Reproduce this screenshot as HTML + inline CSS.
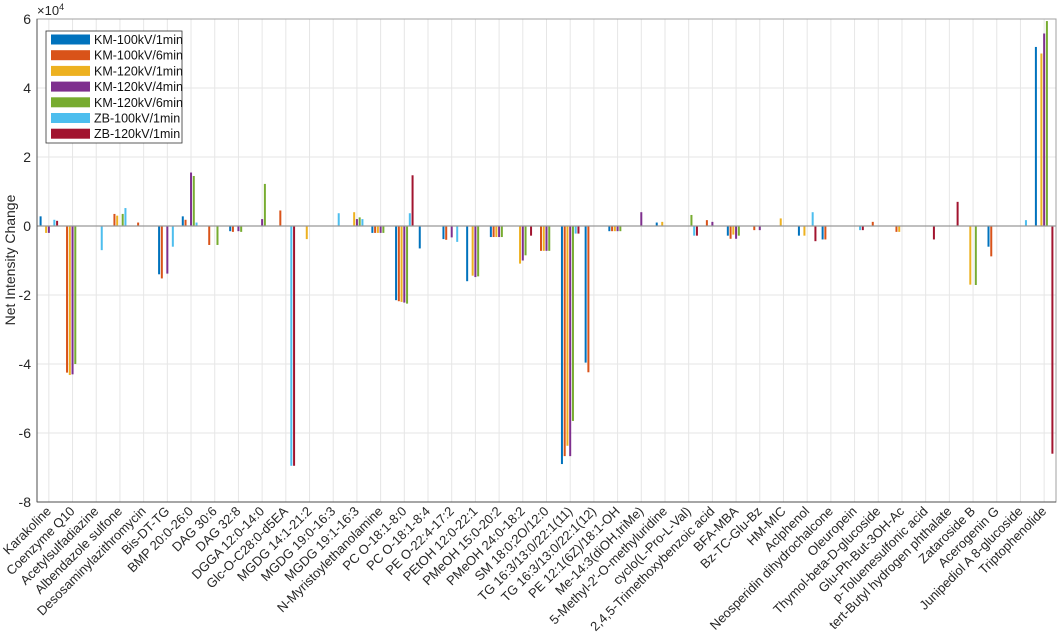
<!DOCTYPE html>
<html><head><meta charset="utf-8"><style>
html,body{margin:0;padding:0;background:#fff;}
svg{display:block;font-family:"Liberation Sans",sans-serif;}
</style></head><body>
<svg id="chart" width="1059" height="641" viewBox="0 0 1059 641" xmlns="http://www.w3.org/2000/svg">
<g id="grid"></g>
<g id="bars"></g>
<g id="axes"></g>
<g id="legend"></g>
</svg>
<script>
const categories = ["Karakoline","Coenzyme Q10","Acetylsulfadiazine","Albendazole sulfone","Desosaminylazithromycin","Bis-DT-TG","BMP 20:0-26:0","DAG 30:6","DAG 32:8","DGGA 12:0-14:0","Glc-O-C28:0-d5EA","MGDG 14:1-21:2","MGDG 19:0-16:3","MGDG 19:1-16:3","N-Myristoylethanolamine","PC O-18:1-8:0","PC O-18:1-8:4","PE O-22:4-17:2","PEtOH 12:0-22:1","PMeOH 15:0-20:2","PMeOH 24:0-18:2","SM 18:0;2O/12:0","TG 16:3/13:0/22:1(11)","TG 16:3/13:0/22:1(12)","PE 12:1(6Z)/18:1-OH","Me-14:3(diOH,triMe)","5-Methyl-2'-O-methyluridine","cyclo(L-Pro-L-Val)","2,4,5-Trimethoxybenzoic acid","BFA-MBA","Bz-TC-Glu-Bz","HM-MIC","Aclphenol","Neosperidin dihydrochalcone","Oleuropein","Thymol-beta-D-glucoside","Glu-Ph-But-3OH-Ac","p-Toluenesulfonic acid","tert-Butyl hydrogen phthalate","Zataroside B","Acerogenin G","Junipediol A 8-glucoside","Triptophenolide"];
const seriesNames = ["KM-100kV/1min","KM-100kV/6min","KM-120kV/1min","KM-120kV/4min","KM-120kV/6min","ZB-100kV/1min","ZB-120kV/1min"];
const km100_1 = [0.28,0,0,0,0,-1.4,0.28,0,-0.15,0, 0,0,0,0,-0.2,-2.15,-0.65,-0.38,-1.6,-0.32, 0,0,-6.9,-3.96,-0.15,0,0.1,0,0,-0.28, 0,0,-0.28,-0.39,0,0,0,0,0,0, -0.6,0,5.19];
const km100_6 = [0,-4.25,0,0.35,0.1,-1.52,0.18,-0.55,-0.17,0, 0.45,0,0,0,-0.2,-2.18,0,-0.4,0,-0.32, 0,-0.72,-6.67,-4.24,-0.15,0,0,0,0.17,-0.37, -0.12,0,0,-0.39,0,0.12,-0.17,0,0,0, -0.88,0,0];
const km120_1 = [-0.2,-4.32,0,0.3,0,0,0,0,0,0, 0,-0.38,0,0.4,-0.2,-2.2,0,0,-1.44,-0.32, -1.09,-0.72,-6.37,0,-0.15,0,0.12,0,0,-0.25, 0,0.22,-0.28,0,0,0,-0.17,0,0,-1.7, 0,0,5.0];
const km120_4 = [-0.2,-4.3,0,0,0,-1.38,1.55,0,-0.15,0.2, 0,0,0,0.2,-0.2,-2.22,0,-0.33,-1.48,-0.32, -1.0,-0.72,-6.67,0,-0.15,0.4,0,0,0.12,-0.37, -0.12,0,0,0,0,0,0,0,0,0, 0,0,5.58];
const km120_6 = [0,-4.0,0,0.35,0,0,1.45,-0.55,-0.17,1.22, 0,0,0,0.25,-0.2,-2.25,0,0,-1.46,-0.32, -0.85,-0.72,-5.65,0,-0.15,0,0,0.32,0,-0.28, 0,0,0,0,0,0,0,0,0,-1.71, 0,0,5.94];
const zb100_1 = [0.18,0,-0.7,0.52,0,-0.6,0.1,0,0,0, -6.95,0,0.37,0.2,0,0.37,0,-0.46,0,0, 0,0,-0.22,0,0,0,0,-0.28,0,0, 0,0,0.4,0,-0.12,0,0,0,0,0, 0,0.17,0];
const zb120_1 = [0.15,0,0,0,0,0,0,0,0,0, -6.95,0,0,0,0,1.47,0,0,0,0, -0.28,0,-0.22,0,0,0,0,-0.28,0,0, 0,0,-0.44,0,-0.12,0,0,-0.39,0.7,0, 0,0,-6.6];
const yTicks = [-8,-6,-4,-2,0,2,4,6];
const colors = ["#0072BD","#D95319","#EDB120","#7E2F8E","#77AC30","#4DBEEE","#A2142F"];
const allSeries = [km100_1,km100_6,km120_1,km120_4,km120_6,zb100_1,zb120_1];

const NS="http://www.w3.org/2000/svg";
const L=37, R=1056, T=19, B=502;
const yMin=-8, yMax=6;
function yScale(v){return B-(v-yMin)/(yMax-yMin)*(B-T);}
function xScale(i){return L+(i+0.5)*(R-L)/categories.length;}
function mk(tag,attrs,parent){const e=document.createElementNS(NS,tag);for(const k in attrs)e.setAttribute(k,attrs[k]);parent.appendChild(e);return e;}
const grid=document.getElementById('grid'),bars=document.getElementById('bars'),axes=document.getElementById('axes'),legend=document.getElementById('legend');
mk('rect',{x:L,y:T,width:R-L,height:B-T,fill:'#fff'},grid);
categories.forEach((c,i)=>{
  const g=mk('line',{x1:xScale(i),x2:xScale(i),y1:T,y2:B,stroke:'#e6e6e6','stroke-width':1},grid);
  
  
});
yTicks.forEach(v=>{
  const g=mk('line',{x1:L,x2:R,y1:yScale(v),y2:yScale(v),stroke:'#e6e6e6','stroke-width':1},grid);
  
  
});
const slot=2.75, bw=2;
allSeries.forEach((arr,s)=>{
  arr.forEach((v,i)=>{
    if(v===0)return;
    const x=xScale(i)+(s-3)*slot-bw/2;
    const y0=yScale(0), y1=yScale(v);
    const r=mk('rect',{x:x,y:Math.min(y0,y1),width:bw,height:Math.abs(y1-y0),fill:colors[s]},bars);
    
    
  });
});
// zero line
const z=mk('line',{x1:L,x2:R,y1:yScale(0),y2:yScale(0),stroke:'#999','stroke-width':1.2},axes);


const box=mk('rect',{x:L,y:T,width:R-L,height:B-T,fill:'none',stroke:'#a0a0a0','stroke-width':1},axes);


mk('line',{x1:L,x2:L,y1:T,y2:B,stroke:'#4d4d4d','stroke-width':1},axes);
mk('line',{x1:L,x2:R,y1:B,y2:B,stroke:'#4d4d4d','stroke-width':1},axes);
yTicks.forEach(v=>{
  const t=mk('text',{x:L-6,y:yScale(v)+5,'text-anchor':'end','font-size':14,fill:'#262626'},axes);
  t.textContent=v;
  
  
});
categories.forEach((c,i)=>{
  const x=xScale(i)+3, y=B+10;
  const t=mk('text',{x:x,y:y,'text-anchor':'end','font-size':13,fill:'#262626',transform:'rotate(-45 '+x+' '+y+')'},axes);
  t.textContent=c;
  
  
});
const yl=mk('text',{x:15,y:260,'text-anchor':'middle','font-size':14,fill:'#262626',transform:'rotate(-90 15 260)'},axes);
yl.textContent='Net Intensity Change';


const ex=mk('text',{x:37,y:15,'font-size':13,fill:'#262626'},axes);
ex.innerHTML='×10<tspan dy="-5" font-size="9">4</tspan>';


const lb=mk('rect',{x:46,y:31,width:136,height:112,fill:'#fff',stroke:'#333','stroke-width':0.8},legend);


seriesNames.forEach((n,s)=>{
  const cy=39.5+s*15.7;
  const sw=mk('rect',{x:51,y:cy-5,width:39,height:10,fill:colors[s]},legend);
  
  
  const t=mk('text',{x:94,y:cy+4.5,'font-size':12.5,fill:'#111'},legend);
  t.textContent=n;
  
  
});
</script>
</body></html>
